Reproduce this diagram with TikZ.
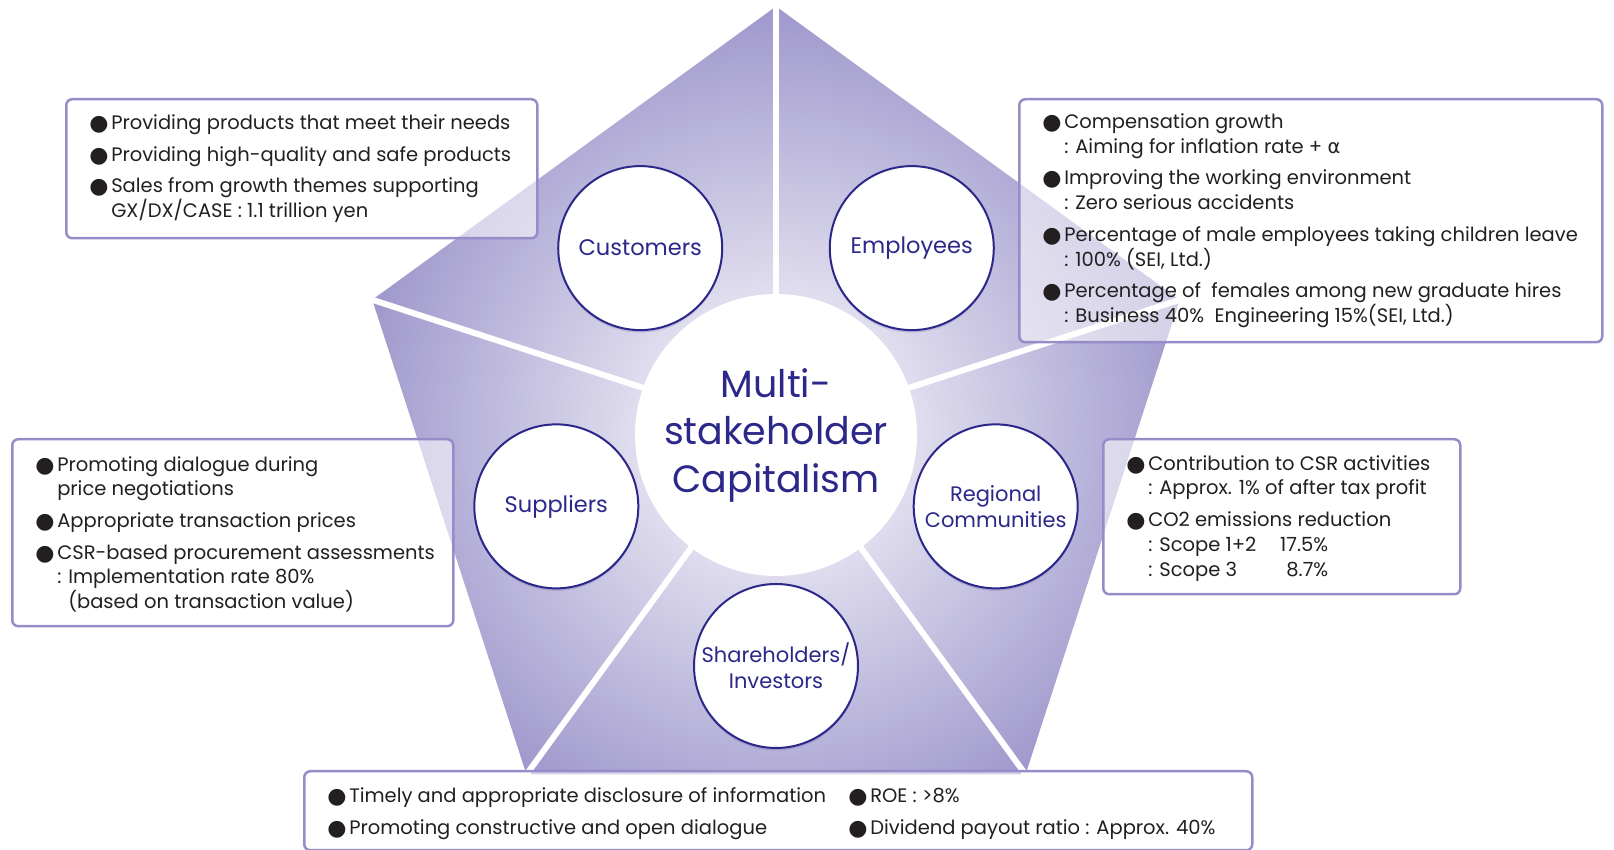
\documentclass[tikz,border=0pt]{standalone}
\usepackage{fontspec}
\setmainfont{Poppins}
\newfontfamily\symfont{DejaVu Sans}
\usetikzlibrary{shapes.geometric, shadows}

\definecolor{indigo}{RGB}{44,40,138}
\definecolor{lavender}{RGB}{155,148,202}
\definecolor{boxline}{RGB}{150,140,200}
\definecolor{ink}{RGB}{35,31,32}

% bullet and hanging indent of the lists
\newcommand{\bul}{\makebox[22pt][l]{\raisebox{-1pt}{\symfont\fontsize{22}{22}\selectfont ●}}}
\newcommand{\ind}{\hspace*{22pt}}

\begin{document}
\begin{tikzpicture}[
            x = 1pt, y = 1pt, % one unit per pixel of the layout
            font = \fontsize{19.5}{24.7}\selectfont, % list text
            every node/.style = {inner sep = 0pt},
            line width = 2.5pt
        ]

        \tikzstyle{stake}=[
            circle,
            draw = indigo,
            line width = 2pt,
            fill = white,
            text = indigo,
            align = center,
            font = \fontsize{22.5}{26.5}\selectfont,
            minimum size = 164pt,
            drop shadow = {shadow xshift = 0pt, shadow yshift = -2.5pt, fill = indigo, opacity = 0.15}
        ]

        \tikzstyle{infobox}=[
            draw = boxline,
            fill = white,
            fill opacity = 0.55,
            rounded corners = 6pt,
            anchor = north west
        ]

        \tikzstyle{listtext}=[
            text = ink,
            align = left,
            anchor = west
        ]

        \useasboundingbox (0,0) rectangle (1614,850);

        \node[regular polygon, regular polygon sides = 5, minimum size = 846pt] (pent) at (776,419) {};
        \coordinate (mid) at (776,415);

        \begin{scope}
            \clip (pent.corner 1) -- (pent.corner 2) -- (pent.corner 3) -- (pent.corner 4) -- (pent.corner 5) -- cycle;
            \shade[inner color = white, outer color = lavender] (pent.center) circle (440);
        \end{scope}

        \foreach \i in {1,...,5}
            \draw[white, line width = 6pt] (pent.center) -- (pent.corner \i);

        \node[circle, fill = white, text = indigo, align = center, minimum size = 282pt,
            font = \fontsize{38}{47.5}\selectfont] (hub) at (mid) {Multi-\\stakeholder\\Capitalism};

        \node[stake] (cust) at ([shift={(126:231)}]mid) {Customers};
        \node[stake] (empl) at ([shift={(54:231)}]mid) {Employees};
        \node[stake] (supp) at ([shift={(198:231)}]mid) {Suppliers};
        \node[stake, font = \fontsize{21}{26}\selectfont] (regi) at ([shift={(342:231)}]mid) {Regional\\Communities};
        \node[stake, font = \fontsize{21}{26}\selectfont] (shar) at ([shift={(270:231)}]mid) {Shareholders/\\Investors};

        % frames
        \node[infobox, minimum width = 471pt, minimum height = 139pt] (custbox) at (65,752) {};
        \node[infobox, minimum width = 583pt, minimum height = 243pt] (emplbox) at (1018,752) {};
        \node[infobox, minimum width = 441pt, minimum height = 187pt] (suppbox) at (11,412) {};
        \node[infobox, minimum width = 357pt, minimum height = 155pt] (regibox) at (1102,412) {};
        \node[infobox, minimum width = 948pt, minimum height = 79pt] (sharbox) at (303,80) {};

        % lists
        \node[listtext] (custlist) at ([xshift=23pt]custbox.west) {%
            \bul Providing products that meet their needs\\[7pt]
            \bul Providing high-quality and safe products\\[7pt]
            \bul Sales from growth themes supporting\\
            \ind GX/DX/CASE : 1.1 trillion yen};

        \node[listtext] (empllist) at ([xshift=23pt]emplbox.west) {%
            \bul Compensation growth\\
            \ind : Aiming for inflation rate + {\symfont α}\\[7pt]
            \bul Improving the working environment\\
            \ind : Zero serious accidents\\[7pt]
            \bul Percentage of male employees taking children leave\\
            \ind : 100\% (SEI, Ltd.)\\[7pt]
            \bul Percentage of\ \ females among new graduate hires\\
            \ind : Business 40\%\ \ Engineering 15\%(SEI, Ltd.)};

        \node[listtext] (supplist) at ([xshift=23pt, yshift=-1.5pt]suppbox.west) {%
            \bul Promoting dialogue during\\
            \ind price negotiations\\[7pt]
            \bul Appropriate transaction prices\\[7pt]
            \bul CSR-based procurement assessments\\
            \ind : Implementation rate 80\%\\
            \ind\hspace*{11pt}(based on transaction value)};

        \node[listtext] (regilist) at ([xshift=23pt, yshift=-1.5pt]regibox.west) {%
            \bul Contribution to CSR activities\\
            \ind : Approx. 1\% of after tax profit\\[7pt]
            \bul CO2 emissions reduction\\
            \ind\makebox[118pt][l]{: Scope 1+2}\makebox[62pt][r]{17.5\%}\\
            \ind\makebox[118pt][l]{: Scope 3}\makebox[62pt][r]{8.7\%}};

        \node[listtext] (sharlist) at ([xshift=23pt, yshift=-3pt]sharbox.west) {%
            \makebox[521pt][l]{\bul Timely and appropriate disclosure of information}\bul ROE : >8\%\\[7.5pt]
            \makebox[521pt][l]{\bul Promoting constructive and open dialogue}\bul Dividend payout ratio : Approx. 40\%};

\end{tikzpicture}
\end{document}
